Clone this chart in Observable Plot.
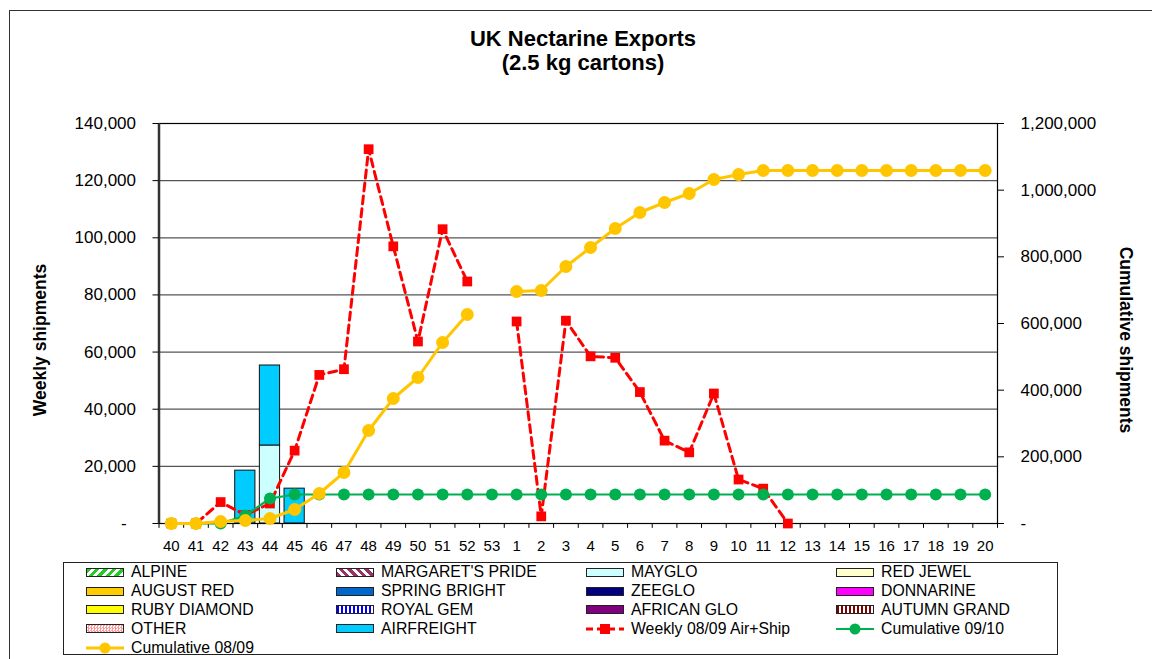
<!DOCTYPE html>
<html><head><meta charset="utf-8">
<script src="https://cdn.jsdelivr.net/npm/d3@7"></script>
<script src="https://cdn.jsdelivr.net/npm/@observablehq/plot@0.6"></script>
<style>
body{margin:0;background:#fff;font-family:"Liberation Sans",Arial,sans-serif;}
#wrap{position:relative;width:1152px;height:659px;overflow:hidden;background:#fff;}
#border{position:absolute;left:9px;top:10px;width:1200px;height:700px;border-left:1.5px solid #333;border-top:1.5px solid #333;}
#chart{position:absolute;left:0;top:0;}
.title{position:absolute;left:0;width:1166px;text-align:center;font-weight:bold;font-size:22px;line-height:24px;color:#000;}
.ylab{position:absolute;font-weight:bold;font-size:17.5px;white-space:nowrap;color:#000;}
#legend{position:absolute;left:63px;top:562px;width:995px;height:93px;border:1px solid #222;box-sizing:border-box;}
#lgrid{position:absolute;left:22px;top:0px;display:grid;grid-template-columns:250px 250px 250px 250px;grid-auto-rows:18.8px;}
.li{display:flex;align-items:center;font-size:15.8px;color:#000;white-space:nowrap;}
.sw{width:36px;height:7px;border:1px solid #222;margin-right:7px;flex:none;}
.ls{width:38px;height:12px;margin-right:7px;flex:none;}
</style></head><body>
<div id="wrap">
<div id="border"></div>
<div id="chart"></div>
<div class="title" style="top:27px">UK Nectarine Exports</div>
<div class="title" style="top:51px">(2.5 kg cartons)</div>
<div class="ylab" style="left:40px;top:340px;transform:translate(-50%,-50%) rotate(-90deg)">Weekly shipments</div>
<div class="ylab" style="left:1125px;top:340px;transform:translate(-50%,-50%) rotate(90deg)">Cumulative shipments</div>
<div id="legend"><div id="lgrid"></div></div>
</div>
<script>
// ---------- data ----------
const weeks = ["40","41","42","43","44","45","46","47","48","49","50","51","52","53",
  "1","2","3","4","5","6","7","8","9","10","11","12","13","14","15","16","17","18","19","20"];
const weekly0809 = [0,0,7500,3000,7000,25500,52000,54000,131000,97000,63700,103000,84700,null,
  70700,2500,71000,58500,58000,46000,29000,24900,45500,15400,12200,0,null,null,null,null,null,null,null,null];
const cum0910 = [0,0,0,24000,75000,87000,87000,87000,87000,87000,87000,87000,87000,87000,
  87000,87000,87000,87000,87000,87000,87000,87000,87000,87000,87000,87000,87000,87000,87000,87000,87000,87000,87000,87000];
const cum0809 = [0,0,6000,9000,15000,42000,90000,153000,279000,375000,438000,543000,627000,null,
  696000,699000,771000,828000,885000,933000,963000,990000,1032000,1047000,1059000,1059000,1059000,1059000,1059000,1059000,1059000,1059000,1059000,1059000];
const barWeeks = ["43","44","45"];
const mayglo = [0,27300,0];
const airfreight = [18500,28000,12200];
const leftTicks = [0,20000,40000,60000,80000,100000,120000,140000];
const rightTicks = [0,200000,400000,600000,800000,1000000,1200000];
const varieties = ["ALPINE","MARGARET'S PRIDE","MAYGLO","RED JEWEL","AUGUST RED","SPRING BRIGHT","ZEEGLO","DONNARINE",
  "RUBY DIAMOND","ROYAL GEM","AFRICAN GLO","AUTUMN GRAND","OTHER","AIRFREIGHT"];
const lineSeries = ["Weekly 08/09 Air+Ship","Cumulative 09/10","Cumulative 08/09"];

// ---------- styles ----------
const swatchStyle = {
  "ALPINE":"repeating-linear-gradient(135deg,#22cc22 0 3px,#fff 3px 6px)",
  "MARGARET'S PRIDE":"repeating-linear-gradient(45deg,#993366 0 3px,#fff 3px 6px)",
  "MAYGLO":"#CCFFFF","RED JEWEL":"#FFFFCC","AUGUST RED":"#FFCC00","SPRING BRIGHT":"#0066CC",
  "ZEEGLO":"#000080","DONNARINE":"#FF00FF","RUBY DIAMOND":"#FFFF00",
  "ROYAL GEM":"repeating-linear-gradient(90deg,#0000ff 0 2px,#fff 2px 4px)",
  "AFRICAN GLO":"#800080",
  "AUTUMN GRAND":"repeating-linear-gradient(90deg,#800000 0 2px,#fff 2px 4px)",
  "OTHER":"repeating-conic-gradient(#ff9999 0 25%,#fff 0 50%) 0 0/3px 3px",
  "AIRFREIGHT":"#00CCFF"
};
const RED="#FF0000", GREEN="#00B050", GOLD="#FFC600";

// ---------- build tables ----------
const ratio = 140000/1200000;
const rows = weeks.map((w,i)=>({week:w, weekly:weekly0809[i], c10:cum0910[i]==null?null:cum0910[i]*ratio, c09:cum0809[i]==null?null:cum0809[i]*ratio}));
const bars = [];
barWeeks.forEach((w,i)=>{ bars.push({week:w, variety:"MAYGLO", value:mayglo[i], color:swatchStyle["MAYGLO"]}); });
barWeeks.forEach((w,i)=>{ bars.push({week:w, variety:"AIRFREIGHT", value:airfreight[i], color:swatchStyle["AIRFREIGHT"]}); });

const W=1152, H=560, ML=158.5, MR=155, MT=123, MB=37;
const step=(W-ML-MR)/weeks.length;
const fmt=d3.format(",");

const plot = Plot.plot({
  width:W, height:H, marginLeft:ML, marginRight:MR, marginTop:MT, marginBottom:MB,
  style:{fontFamily:'"Liberation Sans",Arial,sans-serif', background:"transparent", color:"#000"},
  x:{type:"band", domain:weeks, paddingInner:0.18, paddingOuter:0.09, round:false},
  y:{domain:[0,140000]},
  marks:[
    Plot.ruleY(leftTicks.slice(1,-1), {stroke:"#555", strokeWidth:1.2}),
    Plot.barY(bars, {x:"week", y:"value", z:"variety", fill:"color", stroke:"#111", strokeWidth:1}),
    Plot.frame({stroke:"#000", strokeWidth:1.2}),
    Plot.ruleX([weeks[0]], {dx:-step/2, stroke:"#333", strokeWidth:2.5}),
    Plot.ruleX(weeks, {x:d=>d, dx:-step/2, y1:0, y2:-1700, stroke:"#000"}),
    Plot.ruleX([weeks[weeks.length-1]], {dx:step/2, y1:0, y2:-1700, stroke:"#000"}),
    Plot.axisY(leftTicks, {anchor:"left", tickSize:6, tickPadding:17, fontSize:17, label:null,
      tickFormat:d=>d===0?"-\u2007":fmt(d)}),
    Plot.axisY(rightTicks.map(v=>v*ratio), {anchor:"right", tickSize:6, tickPadding:17, fontSize:17, label:null,
      tickFormat:d=>{const v=Math.round(d/ratio); return v===0?"-":fmt(v);}}),
    Plot.tickY(rightTicks.slice(1,-1).map(v=>v*ratio), {x:weeks[weeks.length-1], dx:step/2, insetLeft:0, stroke:"#000", strokeWidth:0}),
    Plot.axisX({tickSize:0, tickPadding:17, fontSize:15, label:null}),
    Plot.line(rows, {x:"week", y:"weekly", stroke:RED, strokeWidth:3, strokeDasharray:"8,5"}),
    Plot.dot(rows, {x:"week", y:"weekly", symbol:"square", r:5.5, fill:RED}),
    Plot.line(rows, {x:"week", y:"c10", stroke:GREEN, strokeWidth:2.2}),
    Plot.dot(rows, {x:"week", y:"c10", r:6, fill:GREEN}),
    Plot.line(rows, {x:"week", y:"c09", stroke:GOLD, strokeWidth:3}),
    Plot.dot(rows, {x:"week", y:"c09", r:6.5, fill:GOLD})
  ]
});
document.getElementById("chart").appendChild(plot);

// ---------- legend ----------
const grid=document.getElementById("lgrid");
varieties.forEach(name=>{
  const d=document.createElement("div"); d.className="li";
  d.innerHTML=`<span class="sw" style="background:${swatchStyle[name]}"></span><span>${name.replace("'","&#39;")}</span>`;
  grid.appendChild(d);
});
const lineIcons = [
  `<svg class="ls" viewBox="0 0 38 12"><line x1="0" y1="6" x2="38" y2="6" stroke="${RED}" stroke-width="3" stroke-dasharray="7,4"/><rect x="14" y="1" width="10" height="10" fill="${RED}"/></svg>`,
  `<svg class="ls" viewBox="0 0 38 12"><line x1="0" y1="6" x2="38" y2="6" stroke="${GREEN}" stroke-width="2.2"/><circle cx="19" cy="6" r="5.5" fill="${GREEN}"/></svg>`,
  `<svg class="ls" viewBox="0 0 38 12"><line x1="0" y1="6" x2="38" y2="6" stroke="${GOLD}" stroke-width="3"/><circle cx="19" cy="6" r="5.5" fill="${GOLD}"/></svg>`
];
lineSeries.forEach((name,i)=>{
  const d=document.createElement("div"); d.className="li";
  d.innerHTML=lineIcons[i]+`<span>${name}</span>`;
  grid.appendChild(d);
});
</script>
</body></html>
